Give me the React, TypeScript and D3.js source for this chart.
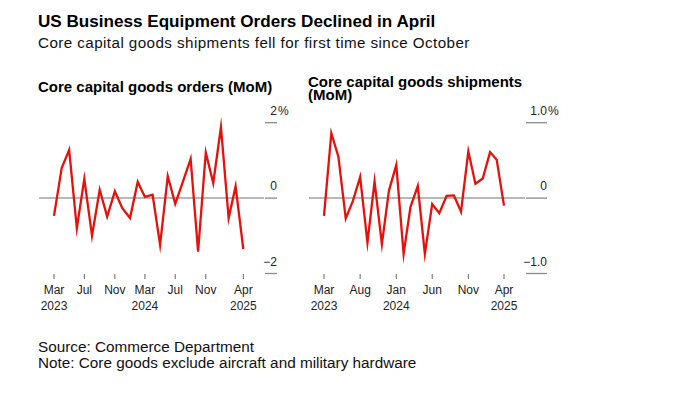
import React from "react";
import * as d3 from "d3";

const months = d3.range(26).map((i) => d3.timeMonth.offset(new Date(2023, 2, 1), i));

const ordersValues = [-0.47, 0.8, 1.28, -0.8, 0.51, -1.0, 0.22, -0.49, 0.18, -0.27, -0.53, 0.43, 0.03, 0.09, -1.24, 0.58, -0.15, 0.44, 1.04, -1.42, 1.21, 0.4, 1.88, -0.53, 0.31, -1.35];
const shipmentsValues = [-0.235, 0.86, 0.55, -0.27, -0.04, 0.28, -0.59, 0.22, -0.61, 0.1, 0.44, -0.74, -0.12, 0.16, -0.74, -0.08, -0.2, 0.03, 0.035, -0.18, 0.62, 0.19, 0.26, 0.61, 0.51, -0.1];

const ordersTicks = [new Date(2023, 2, 1), new Date(2023, 6, 1), new Date(2023, 10, 1), new Date(2024, 2, 1), new Date(2024, 6, 1), new Date(2024, 10, 1), new Date(2025, 3, 1)];
const shipmentsTicks = [new Date(2023, 2, 1), new Date(2023, 7, 1), new Date(2024, 0, 1), new Date(2024, 5, 1), new Date(2024, 10, 1), new Date(2025, 3, 1)];
const ordersYearTicks = [new Date(2023, 2, 1), new Date(2024, 2, 1), new Date(2025, 3, 1)];
const shipmentsYearTicks = [new Date(2023, 2, 1), new Date(2024, 0, 1), new Date(2025, 3, 1)];

const ordersYTicks = [-2, 0, 2];
const shipmentsYTicks = [-1, 0, 1];

const title = "US Business Equipment Orders Declined in April";
const subtitle = "Core capital goods shipments fell for first time since October";
const source = "Source: Commerce Department";
const note = "Note: Core goods exclude aircraft and military hardware";

const FONT = "'Liberation Sans', Arial, Helvetica, sans-serif";
const RED = "#e3120b";

type PanelProps = {
  values: number[];
  ticks: Date[];
  yearTicks: Date[];
  yTicks: number[];
  yFormat: (v: number) => string;
  x0: number;
  x1: number;
  axisL: number;
  axisR: number;
  stubW: number;
  titleLines: string[];
  titleY: number;
};

function Panel({ values, ticks, yearTicks, yTicks, yFormat, x0, x1, axisL, axisR, stubW, titleLines, titleY }: PanelProps) {
  const x = d3.scaleTime().domain([months[0], months[months.length - 1]]).range([x0, x1]);
  const yMax = yTicks[yTicks.length - 1];
  const y = d3.scaleLinear().domain([-yMax, yMax]).range([273.5, 122.7]);
  const line = d3
    .line<number>()
    .x((_, i) => x(months[i]))
    .y((d) => y(d));
  const fmtMonth = d3.timeFormat("%b");
  const fmtYear = d3.timeFormat("%Y");
  const yearSet = new Set(yearTicks.map((d) => +d));
  return (
    <g>
      {titleLines.map((t, i) => (
        <text key={i} x={axisL - 1} y={titleY + i * 12.5} fontFamily={FONT} fontWeight="bold" fontSize={15} fill="#000">
          {t}
        </text>
      ))}
      <line x1={axisL} x2={axisR - stubW - 1} y1={y(0)} y2={y(0)} stroke="#a0a0a0" strokeWidth={1.5} />
      {yTicks.map((t) => (
        <g key={t}>
          <line x1={axisR - stubW} x2={axisR} y1={y(t)} y2={y(t)} stroke="#8a8a8a" strokeWidth={1.3} />
          <text x={axisR} y={y(t) - 8} textAnchor="end" fontFamily={FONT} fontSize={12} fill="#222">
            {yFormat(t)}
          </text>
          {t === yMax ? (
            <text x={axisR + 1} y={y(t) - 8} fontFamily={FONT} fontSize={12} fill="#222">
              %
            </text>
          ) : null}
        </g>
      ))}
      <path d={line(values) || ""} fill="none" stroke={RED} strokeWidth={2.3} strokeLinejoin="miter" strokeMiterlimit={10} />
      {ticks.map((t) => (
        <g key={+t} transform={`translate(${x(t)},0)`}>
          <line y1={274} y2={279} stroke="#666" strokeWidth={1} />
          <text y={294} textAnchor="middle" fontFamily={FONT} fontSize={12} fill="#222">
            {fmtMonth(t)}
          </text>
          {yearSet.has(+t) ? (
            <text y={309.5} textAnchor="middle" fontFamily={FONT} fontSize={12} fill="#222">
              {fmtYear(t)}
            </text>
          ) : null}
        </g>
      ))}
    </g>
  );
}

export default function App() {
  return (
    <svg width={680} height={395} style={{ position: "absolute", left: 0, top: 0, background: "#fff" }}>
      <rect width={680} height={395} fill="#fff" />
      <text x={38} y={27} fontFamily={FONT} fontWeight="bold" fontSize={17.1} fill="#000">
        {title}
      </text>
      <text x={38} y={47.5} fontFamily={FONT} fontSize={15.2} letterSpacing={0.43} fill="#111">
        {subtitle}
      </text>
      <Panel
        values={ordersValues}
        ticks={ordersTicks}
        yearTicks={ordersYearTicks}
        yTicks={ordersYTicks}
        yFormat={(v) => d3.format("d")(v)}
        x0={54}
        x1={243.3}
        axisL={39}
        axisR={277}
        stubW={12}
        titleLines={["Core capital goods orders (MoM)"]}
        titleY={92}
      />
      <Panel
        values={shipmentsValues}
        ticks={shipmentsTicks}
        yearTicks={shipmentsYearTicks}
        yTicks={shipmentsYTicks}
        yFormat={(v) => (v === 0 ? "0" : d3.format(".1f")(v))}
        x0={324}
        x1={504}
        axisL={309}
        axisR={547}
        stubW={21}
        titleLines={["Core capital goods shipments", "(MoM)"]}
        titleY={87}
      />
      <text x={38} y={351.5} fontFamily={FONT} fontSize={15.3} fill="#111">
        {source}
      </text>
      <text x={38} y={368} fontFamily={FONT} fontSize={15.3} fill="#111">
        {note}
      </text>
    </svg>
  );
}
